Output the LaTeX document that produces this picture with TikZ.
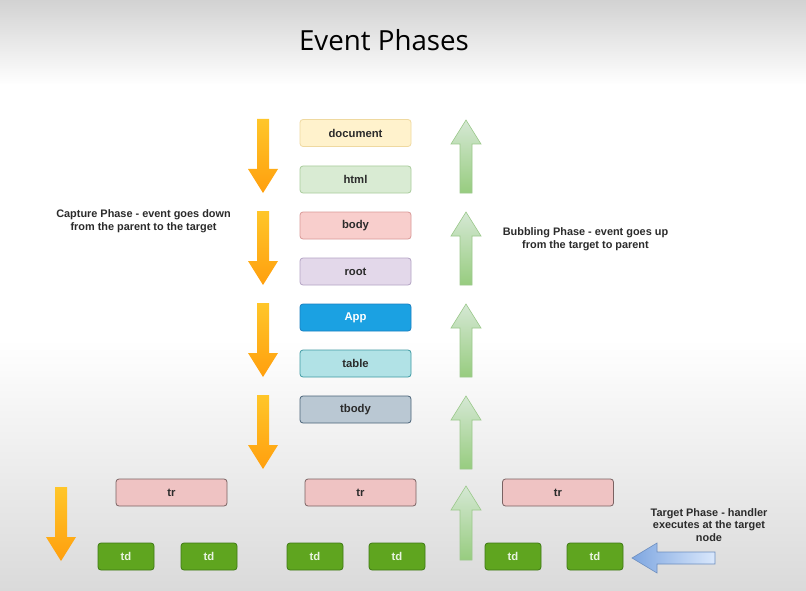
\documentclass[tikz,border=0pt]{standalone}
\usepackage{fontspec}
\setmainfont{Liberation Sans}
\newfontfamily\titlefont{Open Sans}
\usetikzlibrary{positioning}
\definecolor{bgtop}{HTML}{D2D2D2}
\definecolor{bgbot}{HTML}{DADADA}
\definecolor{oranT}{HTML}{FFC629}
\definecolor{oranB}{HTML}{FF9F0E}
\definecolor{grnT}{HTML}{D5E8D4}
\definecolor{grnB}{HTML}{97CC7F}
\definecolor{grnD}{HTML}{9CC98C}
\definecolor{bluT}{HTML}{DAE8FC}
\definecolor{bluB}{HTML}{7EA6E0}
\definecolor{bluD}{HTML}{6C8EBF}
\definecolor{txt}{HTML}{2B2B2B}
\definecolor{docF}{HTML}{FFF2CC}\definecolor{docD}{HTML}{EFD9A0}
\definecolor{htmlF}{HTML}{D9EBD3}\definecolor{htmlD}{HTML}{A9CC9C}
\definecolor{bodyF}{HTML}{F8CECC}\definecolor{bodyD}{HTML}{D99A98}
\definecolor{rootF}{HTML}{E3D8EA}\definecolor{rootD}{HTML}{B4A4C4}
\definecolor{appF}{HTML}{1BA1E2}\definecolor{appD}{HTML}{1A7FC0}
\definecolor{tabF}{HTML}{B1E2E6}\definecolor{tabD}{HTML}{3F9AA3}
\definecolor{tbF}{HTML}{BAC8D3}\definecolor{tbD}{HTML}{4A6378}
\definecolor{trF}{HTML}{EFC3C3}
\definecolor{trD}{HTML}{7A6262}
\definecolor{tdF}{HTML}{5FA51F}
\definecolor{tdD}{HTML}{3E7A14}
\definecolor{tdT}{HTML}{E8F4E0}
\newcommand\DownArr[3]{%
  \shade[top color=oranT,bottom color=oranB]
   (#1-6,#2) -- (#1+6,#2) -- (#1+6,#3-24) -- (#1+15,#3-24) -- (#1,#3)
   -- (#1-15,#3-24) -- (#1-6,#3-24) -- cycle;}
\newcommand\UpArr[3]{%
  \shade[top color=grnT,bottom color=grnB,draw=grnD,line width=0.6pt]
   (#1-6,#3) -- (#1+6,#3) -- (#1+6,#2+24) -- (#1+15,#2+24) -- (#1,#2)
   -- (#1-15,#2+24) -- (#1-6,#2+24) -- cycle;}
\tikzset{
  elbox/.style={draw, rounded corners=3pt, minimum width=111pt, minimum height=27pt,
    line width=0.8pt, font=\bfseries\fontsize{11.3}{13}\selectfont, text=txt, inner sep=0pt},
  trbox/.style={elbox, fill=trF, draw=trD},
  tdbox/.style={elbox, minimum width=56pt, fill=tdF, draw=tdD, text=tdT},
  lbl/.style={font=\bfseries\fontsize{10.9}{12.8}\selectfont, text=txt, align=center}
}
\begin{document}
\begin{tikzpicture}[x=1pt,y=-1pt]
\useasboundingbox (0,0) rectangle (806,591);
% background
\shade[top color=bgtop,bottom color=white] (0,0) rectangle (806,85);
\fill[white] (0,84.5) rectangle (806,340);
\shade[top color=white,bottom color=bgbot] (0,339.5) rectangle (806,591);
% title
\node (title) at (384,40) {\titlefont\fontsize{27.7}{32}\selectfont Event Phases};
% element boxes
\node[elbox, fill=docF, draw=docD] (doc) at (355.5,133) {document};
\node[elbox, fill=htmlF, draw=htmlD] (html) at (355.5,179.5) {html};
\node[elbox, fill=bodyF, draw=bodyD] (body) at (355.5,225.5) {body};
\node[elbox, fill=rootF, draw=rootD] (root) at (355.5,271.5) {root};
\node[elbox, fill=appF, draw=appD, text=white] (app) at (355.5,317.5) {App};
\node[elbox, fill=tabF, draw=tabD] (table) at (355.5,363.5) {table};
\node[elbox, fill=tbF, draw=tbD] (tbody) at (355.5,409.5) {tbody};
% tr
\node[trbox] (tr1) at (171.5,492.5) {tr};
\node[trbox] (tr2) at (360.5,492.5) {tr};
\node[trbox] (tr3) at (558,492.5) {tr};
% td
\node[tdbox] (td1) at (126,556.5) {td};
\node[tdbox] (td2) at (209,556.5) {td};
\node[tdbox] (td3) at (315,556.5) {td};
\node[tdbox] (td4) at (397,556.5) {td};
\node[tdbox] (td5) at (513,556.5) {td};
\node[tdbox] (td6) at (595,556.5) {td};
% capture arrows
\DownArr{263}{119}{193}
\DownArr{263}{211}{285}
\DownArr{263}{303}{377}
\DownArr{263}{395}{469}
\DownArr{61}{487}{561}
% bubbling arrows
\UpArr{466}{120}{193}
\UpArr{466}{212}{285}
\UpArr{466}{304}{377}
\UpArr{466}{396}{469}
\UpArr{466}{486}{560}
% target arrow
\shade[left color=bluB,right color=bluT,draw=bluD,line width=0.6pt]
  (715,552) -- (715,564) -- (657,564) -- (657,573) -- (632,558) -- (657,543) -- (657,552) -- cycle;
% labels
\node[lbl] (cap) at (143.5,221.5) {Capture Phase - event goes down\\from the parent to the target};
\node[lbl] (bub) at (585.5,239.5) {Bubbling Phase - event goes up\\from the target to parent};
\node[lbl] (tgt) at (709,525) {Target Phase - handler\\executes at the target\\node};
\end{tikzpicture}
\end{document}
